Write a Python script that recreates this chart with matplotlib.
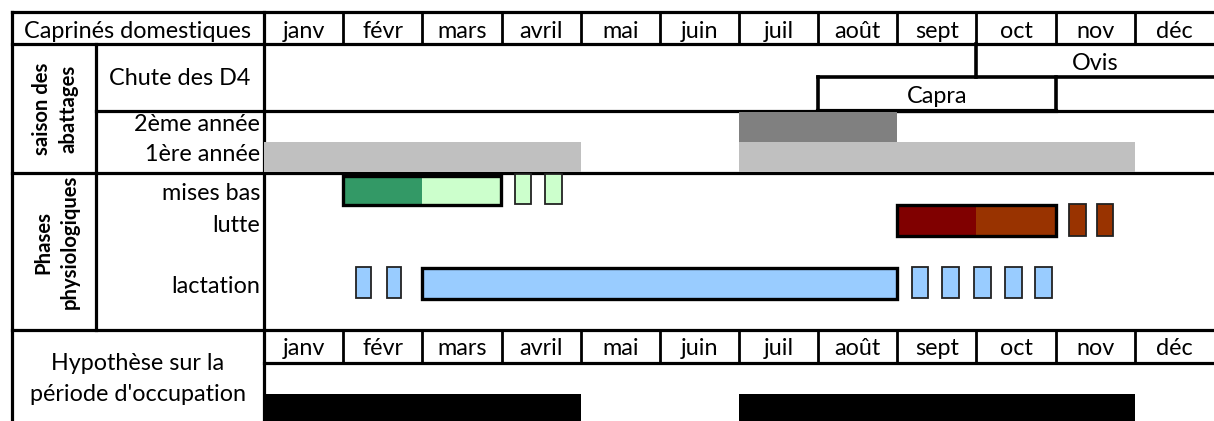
import matplotlib
matplotlib.use("Agg")
import matplotlib.pyplot as plt
from matplotlib.patches import Rectangle

plt.rcParams['font.family'] = ['Lato', 'DejaVu Sans']

# ---------------- data ----------------
months = ['janv', 'févr', 'mars', 'avril', 'mai', 'juin',
          'juil', 'août', 'sept', 'oct', 'nov', 'déc']
# spans are (start month index, duration in months)
chute_ovis = (9, 3)
chute_capra = (7, 3)
abattage_2eme = [(6, 2)]
abattage_1ere = [(0, 4), (6, 5)]
mises_bas_main = [(1, 1), (2, 1)]
mises_bas_main_colors = ['#339966', '#CCFFCC']
mises_bas_extra = [(3.17, 0.20), (3.55, 0.21)]
lutte_main = [(8, 1), (9, 1)]
lutte_main_colors = ['#800000', '#993300']
lutte_extra = [(10.17, 0.21), (10.52, 0.20)]
lactation_main = [(2, 6)]
lactation_extra = [(1.16, 0.19), (1.55, 0.18), (8.18, 0.21), (8.56, 0.22),
                   (8.97, 0.21), (9.36, 0.21), (9.74, 0.21)]
occupation = [(0, 4), (6, 5)]

# ---------------- layout (pixels) ----------------
W, H = 1214, 421
X_LEFT, X_SPLIT, X_MONTH = 12, 96, 264
FS = 16.8
FS_V = 14.6
LW = 2.3

fig = plt.figure(figsize=(W / 100, H / 100), dpi=100)
ax = fig.add_axes([0, 0, 1, 1])
ax.set_xlim(0, W)
ax.set_ylim(H, 0)
ax.axis('off')

axm = fig.add_axes([X_MONTH / W, 0, (W - X_MONTH) / W, 1])
axm.set_xlim(0, 12)
axm.set_ylim(H, 0)
axm.axis('off')
axm.patch.set_alpha(0)


def hline(y, x0, x1, lw=LW):
    ax.plot([x0, x1], [y, y], color='black', lw=lw, solid_capstyle='projecting')


def vline(x, y0, y1, lw=LW):
    ax.plot([x, x], [y0, y1], color='black', lw=lw, solid_capstyle='projecting')


def mvline(m, y0, y1, lw=LW):
    axm.plot([m, m], [y0, y1], color='black', lw=lw, solid_capstyle='projecting')


def mhline(y, m0, m1, lw=LW):
    axm.plot([m0, m1], [y, y], color='black', lw=lw, solid_capstyle='projecting')


def bars(spans, y0, y1, colors, edge=None, lw=0):
    if isinstance(colors, str):
        colors = [colors] * len(spans)
    for (s, d), c in zip(spans, colors):
        axm.add_patch(Rectangle((s, y0), d, y1 - y0, facecolor=c,
                                edgecolor=edge if edge else 'none',
                                linewidth=lw, zorder=3))


def framed(spans, y0, y1, colors, lw=2.4):
    bars(spans, y0, y1, colors)
    s0 = spans[0][0]
    s1 = spans[-1][0] + spans[-1][1]
    axm.add_patch(Rectangle((s0, y0), s1 - s0, y1 - y0, facecolor='none',
                            edgecolor='black', linewidth=lw, zorder=4))


# ---------- header row ----------
hline(12, X_LEFT, W)
hline(44, X_LEFT, W)
vline(X_LEFT, 12, H)
vline(X_MONTH, 12, H)
for i in range(1, 12):
    mvline(i, 12, 44, lw=2.0)
ax.text(138, 38, 'Caprinés domestiques', ha='center', va='baseline', fontsize=FS)
for i, m in enumerate(months):
    axm.text(i + 0.5, 38, m, ha='center', va='baseline', fontsize=FS)

# ---------- saison des abattages ----------
vline(X_SPLIT, 44, 330)
hline(111, X_SPLIT, W)
hline(173, X_LEFT, W)
ax.text(55, 109, 'saison des\nabattages', rotation=90, ha='center', va='center',
        fontsize=FS_V, fontweight='bold', linespacing=1.4, multialignment='center')
ax.text(180, 85, 'Chute des D4', ha='center', va='baseline', fontsize=FS)

# Ovis / Capra boxes
o0, od = chute_ovis
c0, cd = chute_capra
mvline(o0, 44, 77, lw=2.6)
mhline(77, c0, 12, lw=2.6)
mvline(c0, 77, 111, lw=2.6)
mvline(c0 + cd, 77, 111, lw=2.6)
mhline(111, c0, c0 + cd, lw=3.0)
axm.text(o0 + od / 2, 70, 'Ovis', ha='center', va='baseline', fontsize=FS)
axm.text(c0 + cd / 2, 103, 'Capra', ha='center', va='baseline', fontsize=FS)

ax.text(260, 131, '2ème année', ha='right', va='baseline', fontsize=FS)
ax.text(260, 161, '1ère année', ha='right', va='baseline', fontsize=FS)
bars(abattage_2eme, 112, 142, '#808080')
bars(abattage_1ere, 142, 172, '#C0C0C0')

# ---------- phases physiologiques ----------
ax.text(57, 242, 'Phases\nphysiologiques', rotation=90, ha='center', va='center',
        fontsize=FS_V, fontweight='bold', linespacing=1.4, multialignment='center')
ax.text(260, 200, 'mises bas', ha='right', va='baseline', fontsize=FS)
ax.text(260, 232, 'lutte', ha='right', va='baseline', fontsize=FS)
ax.text(260, 293, 'lactation', ha='right', va='baseline', fontsize=FS)

framed(mises_bas_main, 176, 205, mises_bas_main_colors)
bars(mises_bas_extra, 174, 204, '#CCFFCC', edge='#222222', lw=1.3)

framed(lutte_main, 205, 236, lutte_main_colors)
bars(lutte_extra, 204, 236, '#993300', edge='#222222', lw=1.3)

framed(lactation_main, 268, 299, ['#99CCFF'])
bars(lactation_extra, 267, 298, '#99CCFF', edge='#222222', lw=1.3)

# ---------- hypothèse ----------
hline(330, X_LEFT, W)
hline(363, X_MONTH, W)
for i in range(1, 12):
    mvline(i, 330, 363, lw=2.0)
for i, m in enumerate(months):
    axm.text(i + 0.5, 355, m, ha='center', va='baseline', fontsize=FS)
ax.text(138, 370, 'Hypothèse sur la', ha='center', va='baseline', fontsize=FS)
ax.text(138, 401, "période d'occupation", ha='center', va='baseline', fontsize=FS)
bars(occupation, 394, 421, 'black')

fig.savefig('out.png', dpi=100)
